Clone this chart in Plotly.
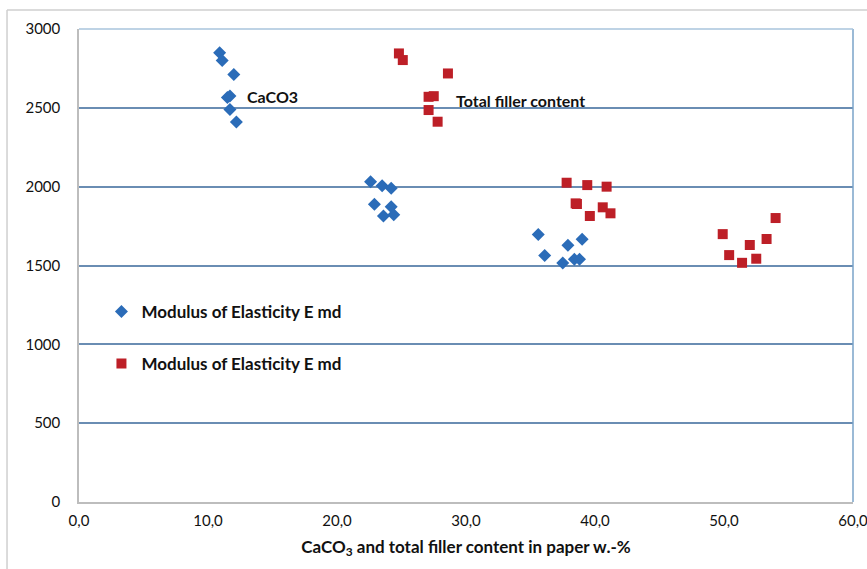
import plotly.graph_objects as go

# Filler content (w.-%) and modulus of elasticity E md (MPa)
caco3_content = [10.9, 11.1, 12.0, 11.5, 11.7, 11.7, 12.2,
                 22.6, 23.5, 24.2, 22.9, 24.2, 23.6, 24.4,
                 35.6, 37.9, 39.0, 36.1, 37.5, 38.4, 38.8]
caco3_modulus = [2849, 2800, 2712, 2565, 2575, 2490, 2410,
                 2031, 2006, 1990, 1888, 1873, 1814, 1822,
                 1697, 1628, 1666, 1564, 1516, 1539, 1539]

filler_content = [24.8, 25.1, 28.6, 27.1, 27.5, 27.1, 27.8,
                  37.8, 39.4, 40.9, 38.5, 40.6, 41.2, 39.6, 38.6,
                  49.9, 50.4, 52.0, 51.4, 52.5, 53.3, 54.0]
filler_modulus = [2845, 2803, 2718, 2570, 2574, 2486, 2412,
                  2025, 2010, 2000, 1894, 1869, 1831, 1814, 1890,
                  1699, 1566, 1630, 1517, 1543, 1668, 1801]

series_name = "Modulus of Elasticity E md"
x_ticks = [0, 10, 20, 30, 40, 50, 60]
y_ticks = [0, 500, 1000, 1500, 2000, 2500, 3000]

FONT = "Lato"
BLUE = "#2b6cb8"
RED = "#bd1f27"
GRID = "#6a8db3"

fig = go.Figure()
fig.add_trace(go.Scatter(
    x=caco3_content, y=caco3_modulus, mode="markers", name=series_name,
    marker=dict(symbol="diamond", size=10, color=BLUE),
    legend="legend",
))
fig.add_trace(go.Scatter(
    x=filler_content, y=filler_modulus, mode="markers", name=series_name,
    marker=dict(symbol="square", size=10, color=RED),
    legend="legend2",
))

fig.add_annotation(x=12.9, y=2570, text="<b>CaCO3</b>", showarrow=False,
                   xanchor="left", yanchor="middle",
                   font=dict(family=FONT, size=16, color="#111"))
fig.add_annotation(x=29.1, y=2549, text="<b>Total filler content</b>", showarrow=False,
                   xanchor="left", yanchor="middle",
                   font=dict(family=FONT, size=16, color="#111"))

# outer chart frame
fig.add_shape(type="line", xref="paper", yref="paper",
              x0=-0.093, x1=1.03, y0=1.04, y1=1.04,
              line=dict(color="#cfcfcf", width=1.5))
fig.add_shape(type="line", xref="paper", yref="paper",
              x0=-0.093, x1=-0.093, y0=-0.2, y1=1.04,
              line=dict(color="#cfcfcf", width=1.5))

legend_style = dict(
    font=dict(family=FONT, size=17, color="#111", weight="bold"),
    bgcolor="rgba(0,0,0,0)", borderwidth=0,
    xanchor="left", yanchor="middle", itemwidth=30,
)

fig.update_layout(
    width=867, height=569,
    margin=dict(l=79, r=14, t=29, b=67, autoexpand=False),
    paper_bgcolor="white", plot_bgcolor="white",
    separators=",.",
    showlegend=True,
    legend=dict(x=0.029, y=(1205 / 3000), **legend_style),
    legend2=dict(x=0.029, y=(875 / 3000), **legend_style),
    xaxis=dict(
        range=[0, 60], tickvals=x_ticks, tickformat=".1f",
        showgrid=False, zeroline=False, automargin=False,
        showline=True, linecolor="#bdbdbd", linewidth=1.5, mirror=False,
        tickfont=dict(family=FONT, size=15, color="#111"),
        ticklabelstandoff=4, ticklabeloverflow="allow",
        title=dict(text="<b>CaCO<sub>3</sub> and total filler content in paper w.-%</b>",
                   font=dict(family=FONT, size=17, color="#111"), standoff=13),
    ),
    yaxis=dict(
        range=[0, 3000], tickvals=y_ticks, automargin=False,
        showgrid=True, gridcolor=GRID, gridwidth=1.5,
        zeroline=False,
        showline=True, linecolor="#bdbdbd", linewidth=1.5,
        tickfont=dict(family=FONT, size=15, color="#111"),
        ticklabelstandoff=14,
    ),
)

# right and top plot edges
fig.add_shape(type="line", xref="paper", yref="paper", x0=1, x1=1, y0=0, y1=1,
              line=dict(color="#7aa3c9", width=1.5))
fig.add_shape(type="line", xref="paper", yref="paper", x0=0, x1=1, y0=1, y1=1,
              line=dict(color="#a9c4dd", width=1.5))

fig.write_html("out.html")
